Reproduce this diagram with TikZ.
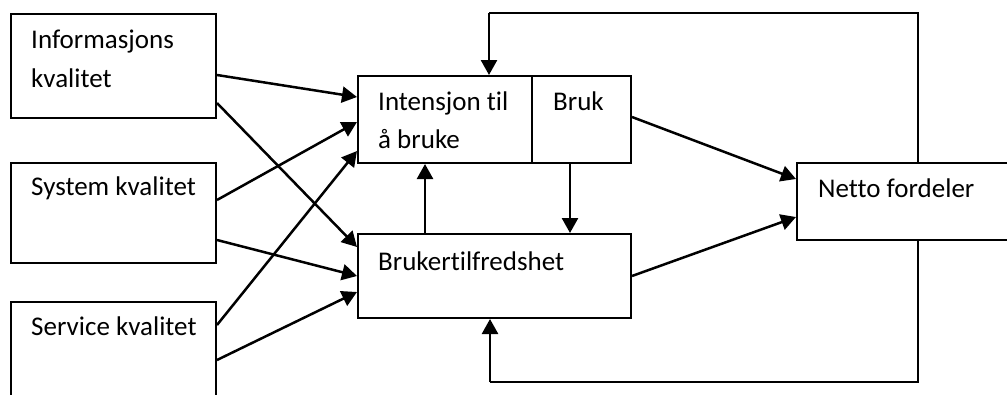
\documentclass[tikz,border=0pt]{standalone}
\usepackage{fontspec}
\setmainfont[Ligatures={NoCommon}]{Carlito}
\usetikzlibrary{arrows.meta,calc}
\begin{document}
\begin{tikzpicture}[x=1pt,y=-1pt,
  box/.style={draw,line width=2pt,minimum width=#1,inner sep=0pt,anchor=north west},
  txt/.style={anchor=base west,inner sep=0pt,font=\fontsize{27}{32}\selectfont},
  arr/.style={line width=2.5pt,-{Triangle[length=15pt,width=16pt]}},
  ln/.style={line width=2.2pt}]
\useasboundingbox (0,0) rectangle (1007,394);
\clip (0,0) rectangle (1007,394);
\fill[white] (0,0) rectangle (1007,394);

% input boxes
\node[box=205pt,minimum height=104pt] (info) at (10,13) {};
\node[box=205pt,minimum height=100pt] (sys) at (10,162) {};
\node[box=205pt,minimum height=120pt] (serv) at (10,301) {};
\node[txt] (infoA) at (31,48) {Informasjons};
\node[txt] (infoB) at (31,87) {kvalitet};
\node[txt] (sysT) at (31,195) {System kvalitet};
\node[txt] (servT) at (31,335) {Service kvalitet};

% intention / use
\node[box=174pt,minimum height=87pt] (int) at (357,75) {};
\node[box=99pt,minimum height=87pt] (bruk) at (531,75) {};
\node[txt] (intA) at (378,110) {Intensjon til};
\node[txt] (intB) at (378,148) {å bruke};
\node[txt] (brukT) at (553,110) {Bruk};

% satisfaction
\node[box=273pt,minimum height=84pt] (tilf) at (357,233) {};
\node[txt] (tilfT) at (378,270) {Brukertilfredshet};

% net benefits
\node[box=230pt,minimum height=77pt] (netto) at (796,162) {};
\node[txt] (nettoT) at (818,197) {Netto fordeler};

% arrows from the quality boxes
\draw[arr] ($(info.north east)+(0,62)$) -- ($(int.north west)+(0,22)$);
\draw[arr] ($(info.north east)+(0,90)$) -- ($(tilf.north west)+(0,14)$);
\draw[arr] ($(sys.north east)+(0,38)$) -- ($(int.north west)+(0,47)$);
\draw[arr] ($(sys.north east)+(0,78)$) -- ($(tilf.north west)+(0,43)$);
\draw[arr] ($(serv.north east)+(0,24)$) -- ($(int.north west)+(0,76)$);
\draw[arr] ($(serv.north east)+(0,59)$) -- ($(tilf.north west)+(0,59)$);

% between the middle boxes
\draw[arr] (tilf.north west -| 425,0) -- (int.south west -| 425,0);
\draw[arr] (bruk.south west -| 570,0) -- (tilf.north west -| 570,0);
\draw[arr] ($(bruk.north east)+(0,42)$) -- ($(netto.north west)+(0,17)$);
\draw[arr] ($(tilf.north east)+(0,43)$) -- ($(netto.north west)+(0,55)$);

% feedback loops
\coordinate (topR) at (918,13);
\coordinate (topL) at (489,13);
\coordinate (botR) at (918,382);
\coordinate (botL) at (490,382);
\draw[ln] (netto.north -| topR) -- (topR) -- (topL);
\draw[arr] (topL) -- (int.north -| topL);
\draw[ln] (netto.south -| botR) -- (botR) -- (botL);
\draw[arr] (botL) -- (tilf.south -| botL);
\end{tikzpicture}
\end{document}
